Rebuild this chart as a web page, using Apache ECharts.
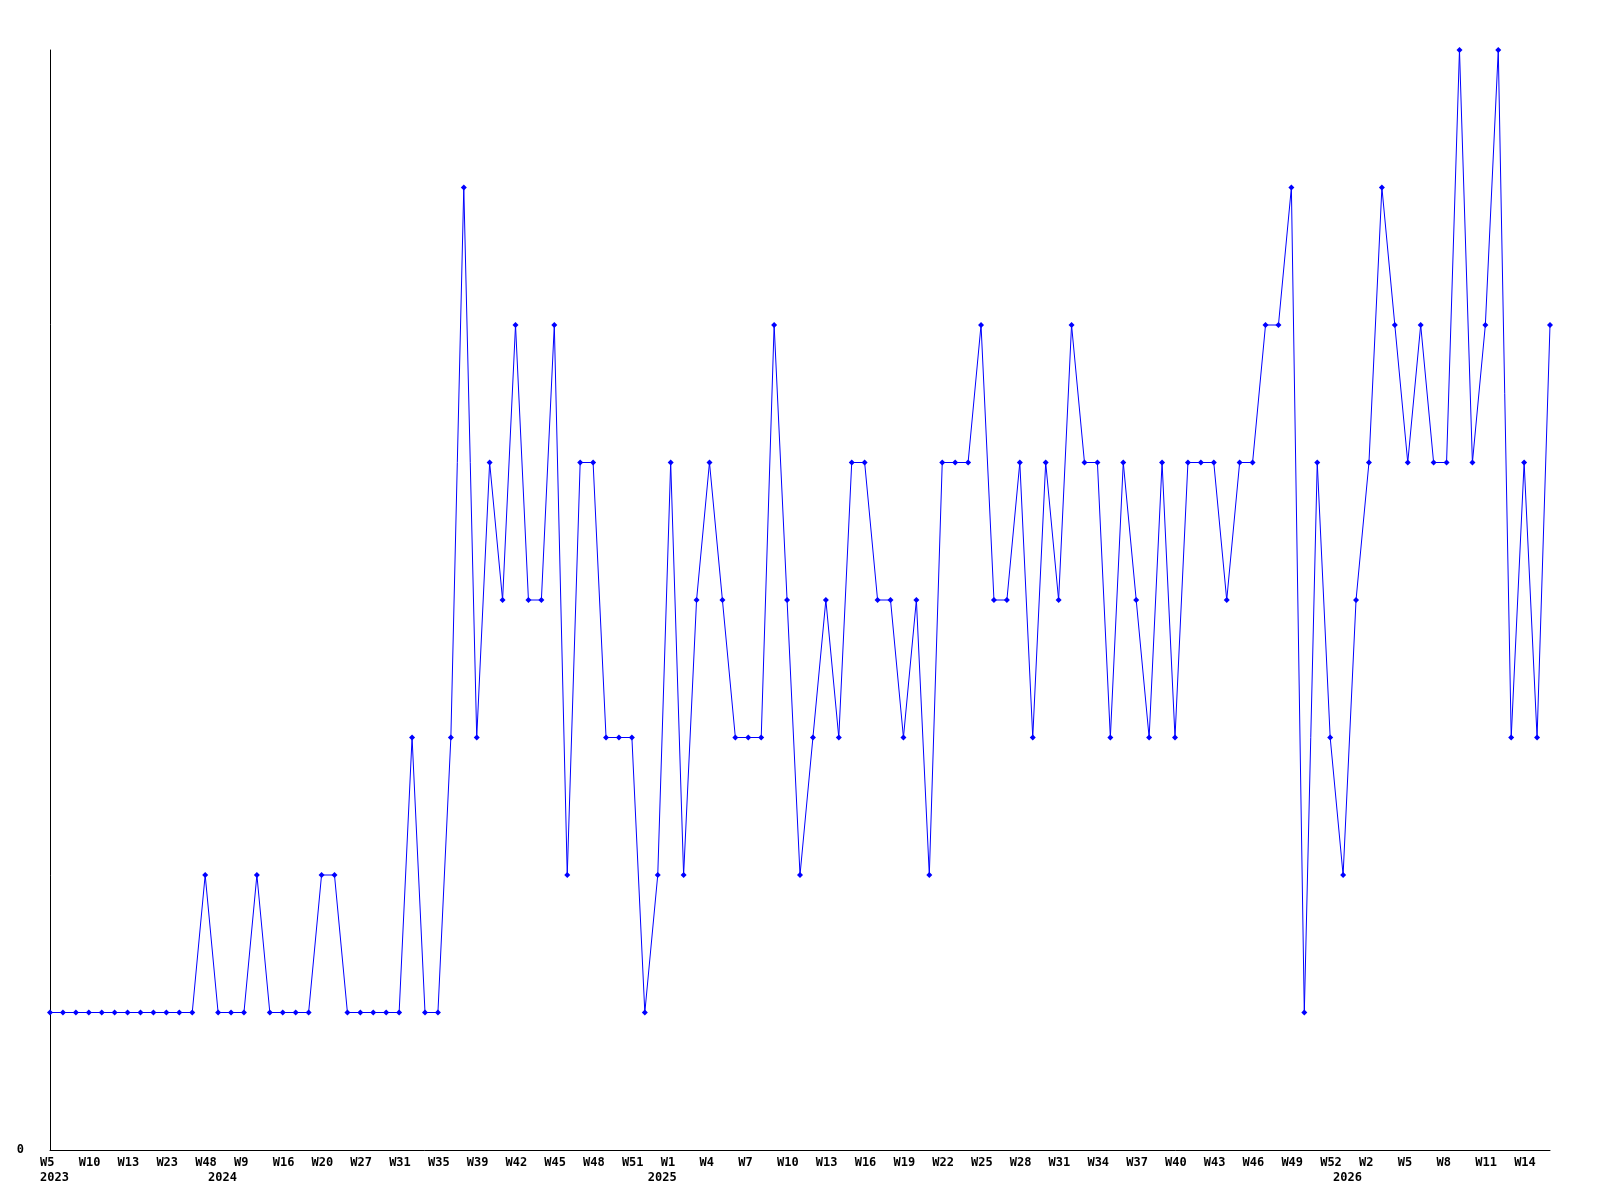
<!DOCTYPE html>
<html>
<head>
<meta charset="utf-8">
<title>Weekly count</title>
<script src="https://cdn.jsdelivr.net/npm/echarts@6/dist/echarts.min.js"></script>
<style>
  html, body { margin: 0; padding: 0; background: #fff; }
  #chart { width: 1600px; height: 1200px; }
</style>
</head>
<body>
<div id="chart"></div>
<script>
// year-week keys, one per point (weeks without data are not in the list)
const periods = [
  "2023-W5", "2023-W7", "2023-W8", "2023-W10", "2023-W11", "2023-W12", "2023-W13",
  "2023-W16", "2023-W20", "2023-W23", "2023-W30", "2023-W40", "2023-W48",
  "2024-W1", "2024-W5", "2024-W9", "2024-W11", "2024-W14", "2024-W16", "2024-W17",
  "2024-W18", "2024-W20", "2024-W22", "2024-W25", "2024-W27", "2024-W28", "2024-W30",
  "2024-W31", "2024-W33", "2024-W34", "2024-W35", "2024-W37", "2024-W38", "2024-W39",
  "2024-W40", "2024-W41", "2024-W42", "2024-W43", "2024-W44", "2024-W45", "2024-W46",
  "2024-W47", "2024-W48", "2024-W49", "2024-W50", "2024-W51", "2024-W52",
  "2025-W0", "2025-W1", "2025-W2", "2025-W3", "2025-W4", "2025-W5", "2025-W6",
  "2025-W7", "2025-W8", "2025-W9", "2025-W10", "2025-W11", "2025-W12", "2025-W13",
  "2025-W14", "2025-W15", "2025-W16", "2025-W17", "2025-W18", "2025-W19", "2025-W20",
  "2025-W21", "2025-W22", "2025-W23", "2025-W24", "2025-W25", "2025-W26", "2025-W27",
  "2025-W28", "2025-W29", "2025-W30", "2025-W31", "2025-W32", "2025-W33", "2025-W34",
  "2025-W35", "2025-W36", "2025-W37", "2025-W38", "2025-W39", "2025-W40", "2025-W41",
  "2025-W42", "2025-W43", "2025-W44", "2025-W45", "2025-W46", "2025-W47", "2025-W48",
  "2025-W49", "2025-W50", "2025-W51", "2025-W52",
  "2026-W0", "2026-W1", "2026-W2", "2026-W3", "2026-W4", "2026-W5", "2026-W6",
  "2026-W7", "2026-W8", "2026-W9", "2026-W10", "2026-W11", "2026-W12", "2026-W13",
  "2026-W14", "2026-W15", "2026-W16"
];

const counts = [
  1, 1, 1, 1, 1, 1, 1, 1, 1, 1, 1, 1, 2,
  1, 1, 1, 2, 1, 1, 1, 1, 2, 2, 1, 1, 1, 1, 1, 3, 1, 1, 3, 7, 3,
  5, 4, 6, 4, 4, 6, 2, 5, 5, 3, 3, 3, 1,
  2, 5, 2, 4, 5, 4, 3, 3, 3, 6, 4, 2, 3, 4, 3, 5, 5, 4, 4, 3, 4, 2,
  5, 5, 5, 6, 4, 4, 5, 3, 5, 4, 6, 5, 5, 3, 5, 4, 3, 5, 3, 5, 5, 5,
  4, 5, 5, 6, 6, 7, 1, 5, 3,
  2, 4, 5, 7, 6, 5, 6, 5, 5, 8, 5, 6, 8, 3, 5, 3, 6
];

const yTicks = [0, 8];

const yearOf = (i) => periods[i].split("-")[0];
const weekOf = (i) => periods[i].split("-")[1];
const startsYear = (i) => i === 0 || yearOf(i) !== yearOf(i - 1);

const chart = echarts.init(document.getElementById("chart"));

chart.setOption({
  animation: false,
  backgroundColor: "#ffffff",
  grid: { left: 50, right: 50, top: 50, bottom: 50 },
  xAxis: {
    type: "category",
    data: periods,
    boundaryGap: false,
    axisLine: { lineStyle: { color: "#000000", width: 1 } },
    axisTick: { show: false },
    splitLine: { show: false },
    axisLabel: {
      interval: (i) => i % 3 === 0 || startsYear(i),
      formatter: (v, i) => {
        const wk = i % 3 === 0 ? weekOf(i) : "";
        return startsYear(i) ? wk + "\n" + yearOf(i) : wk;
      },
      align: "left",
      verticalAlign: "top",
      padding: [0, 0, 0, -10],
      margin: 5,
      lineHeight: 15,
      color: "#000000",
      fontFamily: "DejaVu Sans Mono",
      fontWeight: "bold",
      fontSize: 12
    }
  },
  yAxis: {
    type: "value",
    min: yTicks[0],
    max: yTicks[1],
    interval: yTicks[1] - yTicks[0],
    axisLine: { show: true, lineStyle: { color: "#000000", width: 1 } },
    axisTick: { show: false },
    splitLine: { show: false },
    axisLabel: {
      formatter: (v) => (v === 0 ? "0" : ""),
      margin: 26,
      color: "#000000",
      fontFamily: "DejaVu Sans Mono",
      fontWeight: "bold",
      fontSize: 12
    }
  },
  series: [
    {
      type: "line",
      data: counts,
      symbol: "diamond",
      symbolSize: 6,
      showAllSymbol: true,
      lineStyle: { color: "#0000ff", width: 1 },
      itemStyle: { color: "#0000ff" }
    }
  ]
});
</script>
</body>
</html>
